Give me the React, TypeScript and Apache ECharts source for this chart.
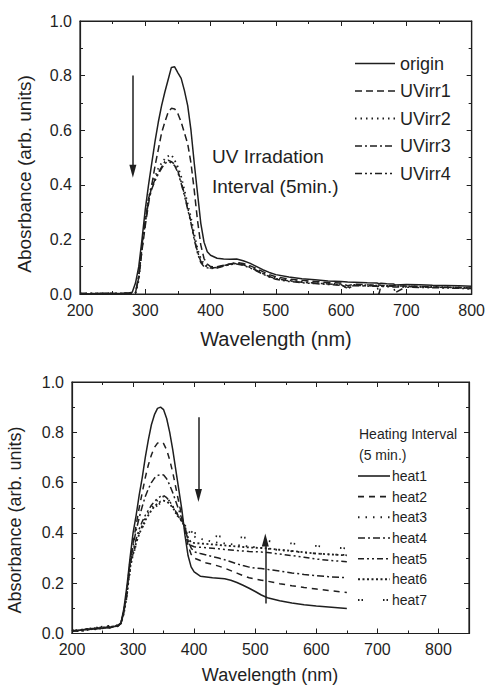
import React, { useEffect, useRef } from "react";
import * as echarts from "echarts";

// ---------------- DATA ----------------
const topWl = [200, 220, 240, 260, 275, 280, 285, 290, 295, 300, 305, 310, 315, 320, 325, 330, 335, 340, 345, 350, 355, 360, 365, 370, 375, 380, 385, 390, 395, 400, 410, 420, 430, 440, 450, 460, 470, 480, 490, 500, 520, 540, 560, 580, 600, 610, 620, 640, 655, 658, 661, 670, 680, 683, 700, 720, 740, 760, 780, 800];

const origin = [0.002, 0.0, 0.003, 0.001, 0.004, 0.006, 0.04, 0.1, 0.2, 0.31, 0.4, 0.48, 0.56, 0.63, 0.69, 0.74, 0.785, 0.83, 0.832, 0.81, 0.79, 0.745, 0.69, 0.6, 0.48, 0.37, 0.26, 0.19, 0.155, 0.142, 0.131, 0.128, 0.127, 0.128, 0.122, 0.113, 0.101, 0.089, 0.079, 0.071, 0.062, 0.056, 0.052, 0.048, 0.046, 0.044, 0.043, 0.041, 0.04, 0.038, 0.039, 0.038, 0.037, 0.033, 0.035, 0.034, 0.032, 0.031, 0.03, 0.028];
const uvirr1 = [0.001, 0.002, 0.0, 0.002, 0.003, 0.003, 0.005, 0.06, 0.16, 0.25, 0.33, 0.4, 0.47, 0.53, 0.59, 0.63, 0.665, 0.68, 0.678, 0.66, 0.63, 0.59, 0.55, 0.48, 0.38, 0.27, 0.18, 0.13, 0.11, 0.1, 0.1, 0.105, 0.11, 0.115, 0.112, 0.104, 0.094, 0.082, 0.071, 0.063, 0.055, 0.05, 0.046, 0.042, 0.04, 0.03, 0.036, 0.034, 0.033, 0.033, 0.032, 0.031, 0.03, 0.03, 0.029, 0.028, 0.026, 0.025, 0.024, 0.022];
const uvirr2 = [0.002, 0.001, 0.003, 0.0, 0.002, 0.003, 0.004, 0.05, 0.17, 0.27, 0.35, 0.4, 0.43, 0.46, 0.48, 0.495, 0.505, 0.51, 0.49, 0.465, 0.43, 0.38, 0.33, 0.28, 0.22, 0.165, 0.13, 0.11, 0.104, 0.1, 0.098, 0.103, 0.11, 0.114, 0.11, 0.1, 0.09, 0.078, 0.066, 0.058, 0.05, 0.045, 0.041, 0.038, 0.036, 0.02, 0.033, 0.032, 0.031, 0.031, 0.03, 0.03, 0.029, 0.029, 0.028, 0.027, 0.026, 0.025, 0.024, 0.02];
const uvirr3 = [0.001, 0.003, 0.001, 0.002, 0.003, 0.002, 0.003, 0.07, 0.18, 0.27, 0.35, 0.39, 0.42, 0.445, 0.465, 0.485, 0.49, 0.485, 0.475, 0.45, 0.41, 0.365, 0.315, 0.265, 0.205, 0.155, 0.12, 0.105, 0.1, 0.095, 0.097, 0.104, 0.11, 0.112, 0.107, 0.098, 0.087, 0.075, 0.064, 0.056, 0.048, 0.043, 0.04, 0.037, 0.034, 0.02, 0.032, 0.03, 0.03, 0.0, 0.03, 0.029, 0.028, 0.005, 0.027, 0.026, 0.025, 0.024, 0.023, 0.02];
const uvirr4 = [0.002, 0.001, 0.002, 0.003, 0.002, 0.002, 0.003, 0.06, 0.17, 0.26, 0.34, 0.385, 0.415, 0.44, 0.46, 0.478, 0.485, 0.48, 0.47, 0.445, 0.405, 0.36, 0.31, 0.26, 0.2, 0.15, 0.115, 0.1, 0.096, 0.093, 0.095, 0.102, 0.108, 0.11, 0.105, 0.096, 0.085, 0.073, 0.062, 0.054, 0.046, 0.041, 0.038, 0.035, 0.032, 0.025, 0.031, 0.029, 0.028, 0.028, 0.028, 0.027, 0.026, 0.026, 0.025, 0.024, 0.023, 0.022, 0.021, 0.018];
const topNames = ["origin", "UVirr1", "UVirr2", "UVirr3", "UVirr4"];
const topSeriesValues = [origin, uvirr1, uvirr2, uvirr3, uvirr4];

const botWl = [200, 210, 220, 230, 240, 250, 260, 270, 275, 280, 285, 290, 295, 300, 305, 310, 315, 320, 325, 330, 335, 340, 345, 350, 355, 360, 365, 370, 375, 380, 385, 390, 395, 400, 410, 420, 430, 440, 450, 460, 470, 480, 490, 500, 510, 520, 540, 560, 580, 600, 620, 640, 650];

const heat1 = [0.01, 0.012, 0.015, 0.018, 0.02, 0.022, 0.025, 0.028, 0.03, 0.04, 0.1, 0.19, 0.3, 0.4, 0.47, 0.55, 0.62, 0.7, 0.77, 0.83, 0.87, 0.895, 0.9, 0.89, 0.855, 0.8, 0.73, 0.65, 0.57, 0.49, 0.39, 0.31, 0.265, 0.245, 0.228, 0.225, 0.222, 0.22, 0.218, 0.212, 0.203, 0.192, 0.18, 0.167, 0.153, 0.142, 0.13, 0.121, 0.114, 0.109, 0.105, 0.101, 0.099];
const heat2 = [0.012, 0.01, 0.016, 0.02, 0.018, 0.025, 0.022, 0.03, 0.028, 0.04, 0.09, 0.17, 0.29, 0.36, 0.43, 0.5, 0.56, 0.62, 0.67, 0.71, 0.74, 0.757, 0.762, 0.755, 0.73, 0.69, 0.64, 0.58, 0.52, 0.465, 0.41, 0.35, 0.315, 0.3, 0.29, 0.28, 0.275, 0.268, 0.26, 0.25, 0.24, 0.23, 0.222, 0.216, 0.212, 0.208, 0.198, 0.19, 0.183, 0.177, 0.171, 0.166, 0.163];
const heat3 = [0.008, 0.014, 0.012, 0.022, 0.02, 0.028, 0.026, 0.032, 0.03, 0.04, 0.085, 0.16, 0.26, 0.32, 0.365, 0.4, 0.43, 0.46, 0.48, 0.5, 0.515, 0.53, 0.54, 0.545, 0.54, 0.525, 0.505, 0.485, 0.465, 0.445, 0.43, 0.41, 0.395, 0.385, 0.377, 0.37, 0.365, 0.361, 0.358, 0.355, 0.352, 0.349, 0.346, 0.343, 0.34, 0.337, 0.332, 0.327, 0.322, 0.318, 0.315, 0.313, 0.312];
const heat4 = [0.011, 0.013, 0.01, 0.017, 0.024, 0.02, 0.028, 0.026, 0.033, 0.04, 0.09, 0.17, 0.28, 0.35, 0.41, 0.46, 0.505, 0.545, 0.575, 0.6, 0.618, 0.628, 0.632, 0.63, 0.615, 0.59, 0.56, 0.525, 0.49, 0.455, 0.42, 0.37, 0.34, 0.325, 0.318, 0.312, 0.306, 0.3, 0.293, 0.285, 0.277, 0.27, 0.264, 0.26, 0.258, 0.255, 0.248, 0.241, 0.235, 0.23, 0.226, 0.223, 0.222];
const heat5 = [0.009, 0.012, 0.018, 0.015, 0.022, 0.026, 0.02, 0.03, 0.032, 0.04, 0.085, 0.16, 0.27, 0.33, 0.375, 0.415, 0.445, 0.47, 0.49, 0.51, 0.525, 0.537, 0.545, 0.548, 0.54, 0.525, 0.505, 0.485, 0.465, 0.445, 0.42, 0.37, 0.35, 0.345, 0.343, 0.341, 0.339, 0.337, 0.334, 0.332, 0.33, 0.328, 0.326, 0.325, 0.324, 0.322, 0.316, 0.31, 0.303, 0.296, 0.291, 0.287, 0.285];
const heat6 = [0.013, 0.009, 0.014, 0.02, 0.016, 0.023, 0.03, 0.027, 0.035, 0.04, 0.08, 0.155, 0.26, 0.315, 0.36, 0.395, 0.425, 0.45, 0.47, 0.49, 0.505, 0.517, 0.525, 0.528, 0.525, 0.515, 0.5, 0.482, 0.463, 0.445, 0.425, 0.38, 0.362, 0.36, 0.358, 0.356, 0.354, 0.352, 0.35, 0.348, 0.346, 0.344, 0.342, 0.341, 0.34, 0.338, 0.333, 0.328, 0.323, 0.318, 0.315, 0.312, 0.311];
const heat7 = [0.01, 0.015, 0.011, 0.019, 0.023, 0.019, 0.027, 0.033, 0.03, 0.04, 0.08, 0.15, 0.25, 0.31, 0.355, 0.39, 0.42, 0.445, 0.465, 0.485, 0.5, 0.51, 0.518, 0.522, 0.52, 0.51, 0.495, 0.478, 0.46, 0.443, 0.428, 0.415, 0.405, 0.4, 0.395, 0.39, 0.388, 0.386, 0.385, 0.384, 0.383, 0.382, 0.379, 0.376, 0.372, 0.368, 0.363, 0.358, 0.353, 0.348, 0.344, 0.34, 0.338];
const botNames = ["heat1", "heat2", "heat3", "heat4", "heat5", "heat6", "heat7"];
const botSeriesValues = [heat1, heat2, heat3, heat4, heat5, heat6, heat7];

// arrows (data coordinates): [x, yFrom, yTo]
const topArrow = [281, 0.8, 0.45];
const botDownArrow = [407, 0.86, 0.549];
const botUpArrow = [516.5, 0.119, 0.372];

// ---------------- STYLE ----------------
const INK = "#1f1f1f";
const FONT = "'Liberation Sans', Arial, Helvetica, sans-serif";
const topDash: (number[] | null)[] = [null, [7, 4], [1.5, 4], [7, 3, 2, 3], [7, 3, 2, 3, 2, 3]];
const botDash: (number[] | null)[] = [null, [6, 5], [1.5, 6], [7, 3, 2, 3], [6, 3, 2, 3, 2, 3], [2, 2.5], [1.5, 2, 1.5, 20]];

function pair(xs: number[], ys: number[]) {
  return xs.map((x, i) => [x, ys[i]]);
}

function arrowData(a: number[]) {
  return [{ coord: [a[0], a[1]] }, { coord: [a[0], a[2]] }];
}

function arrowMarkLine(arrows: number[][]) {
  return {
    silent: true,
    symbol: ["none", "triangle"],
    symbolSize: [7, 13],
    label: { show: false },
    emphasis: { disabled: true },
    lineStyle: { color: INK, width: 1.5, type: "solid" },
    itemStyle: { color: INK },
    data: arrows.map(arrowData),
  };
}

function xAxisPair(grid: number, max: number) {
  const common = {
    gridIndex: grid,
    type: "value",
    min: 200,
    max,
    interval: 100,
    splitLine: { show: false },
    minorSplitLine: { show: false },
    axisTick: { show: true, inside: true, length: 5, lineStyle: { color: INK, width: 1 } },
    minorTick: { show: true, splitNumber: 2, length: 3, lineStyle: { color: INK, width: 1 } },
  };
  return [
    {
      ...common,
      position: "bottom",
      axisLine: { show: true, onZero: false, lineStyle: { color: INK, width: 1.2 } },
      axisLabel: {
        show: true,
        margin: 8,
        fontSize: 16,
        fontFamily: FONT,
        color: INK,
        formatter: (v: number) => (v > 800 ? "" : String(v)),
      },
    },
    {
      ...common,
      position: "top",
      axisLine: { show: true, onZero: false, lineStyle: { color: INK, width: 1.2 } },
      axisLabel: { show: false },
    },
  ];
}

function yAxisPair(grid: number, fontSize: number) {
  const common = {
    gridIndex: grid,
    type: "value",
    min: 0,
    max: 1,
    interval: 0.2,
    splitLine: { show: false },
    minorSplitLine: { show: false },
    axisTick: { show: true, inside: true, length: 5, lineStyle: { color: INK, width: 1 } },
    minorTick: { show: true, splitNumber: 2, length: 3, lineStyle: { color: INK, width: 1 } },
  };
  return [
    {
      ...common,
      position: "left",
      axisLine: { show: true, onZero: false, lineStyle: { color: INK, width: 1.2 } },
      axisLabel: {
        show: true,
        margin: 8,
        fontSize,
        fontFamily: FONT,
        color: INK,
        formatter: (v: number) => v.toFixed(1),
      },
    },
    {
      ...common,
      position: "right",
      axisLine: { show: true, onZero: false, lineStyle: { color: INK, width: 1.2 } },
      axisLabel: { show: false },
    },
  ];
}

function txt(x: number, y: number, text: string, fontSize: number, extra: any = {}) {
  return {
    type: "text",
    x,
    y,
    silent: true,
    ...extra,
    style: {
      text,
      fill: INK,
      fontSize,
      fontFamily: FONT,
      align: extra.align || "left",
      verticalAlign: "middle",
    },
  };
}

function legendLine(x1: number, x2: number, y: number, dash: number[] | null) {
  return {
    type: "line",
    silent: true,
    shape: { x1, y1: y, x2, y2: y },
    style: {
      stroke: INK,
      lineWidth: dash && dash[0] <= 2 ? 2 : 1.6,
      lineDash: dash || undefined,
    },
  };
}

export default function App() {
  const ref = useRef<HTMLDivElement>(null);

  useEffect(() => {
    if (!ref.current) return;
    const chart = echarts.init(ref.current, undefined, { renderer: "svg" });

    const series: any[] = [];
    topNames.forEach((name, i) => {
      const d = topDash[i];
      series.push({
        type: "line",
        name,
        xAxisIndex: 0,
        yAxisIndex: 0,
        data: pair(topWl, topSeriesValues[i]),
        symbol: "none",
        showSymbol: false,
        silent: true,
        lineStyle: { color: INK, width: d && d[0] <= 2 ? 1.8 : 1.5, type: d || "solid" },
        markLine: i === 0 ? arrowMarkLine([topArrow]) : undefined,
      });
    });
    botNames.forEach((name, i) => {
      const d = botDash[i];
      series.push({
        type: "line",
        name,
        xAxisIndex: 2,
        yAxisIndex: 2,
        data: pair(botWl, botSeriesValues[i]),
        symbol: "none",
        showSymbol: false,
        silent: true,
        lineStyle: { color: INK, width: d && d[0] <= 2 ? 1.8 : 1.5, type: d || "solid" },
        markLine: i === 0 ? arrowMarkLine([botDownArrow, botUpArrow]) : undefined,
      });
    });

    const graphic: any[] = [];
    // top legend
    topNames.forEach((name, i) => {
      const y = 63.5 + i * 27.5;
      graphic.push(legendLine(355, 395, y, topDash[i]));
      graphic.push(txt(400, y, name, 18));
    });
    // top annotation
    graphic.push(txt(212, 156, "UV Irradation", 19));
    graphic.push(txt(212, 186, "Interval (5min.)", 19));
    // bottom legend
    graphic.push(txt(359, 434, "Heating Interval", 14));
    graphic.push(txt(359, 455, "(5 min.)", 14));
    botNames.forEach((name, i) => {
      const y = 476 + i * 20.67;
      graphic.push(legendLine(358, 390, y, botDash[i]));
      graphic.push(txt(392, y, name, 14));
    });
    // axis titles
    graphic.push(txt(276, 339, "Wavelength (nm)", 20, { align: "center" }));
    graphic.push(txt(270, 675, "Wavelength (nm)", 18, { align: "center" }));
    graphic.push(txt(24, 174, "Abosrbance (arb. units)", 19, { align: "center", rotation: Math.PI / 2 }));
    graphic.push(txt(15, 520, "Absorbance (arb. units)", 18, { align: "center", rotation: Math.PI / 2 }));

    chart.setOption({
      animation: false,
      backgroundColor: "#ffffff",
      grid: [
        { left: 80, top: 21, width: 393, height: 273, show: true, borderColor: INK, borderWidth: 1.2, backgroundColor: "transparent" },
        { left: 72, top: 382, width: 397, height: 251.5, show: true, borderColor: INK, borderWidth: 1.2, backgroundColor: "transparent" },
      ],
      xAxis: [...xAxisPair(0, 800), ...xAxisPair(1, 850)],
      yAxis: [...yAxisPair(0, 16), ...yAxisPair(1, 16)],
      series,
      graphic,
    });

    return () => chart.dispose();
  }, []);

  return (
    <div
      ref={ref}
      style={{ position: "absolute", left: 0, top: 0, width: 488, height: 687, background: "#fff" }}
    />
  );
}
